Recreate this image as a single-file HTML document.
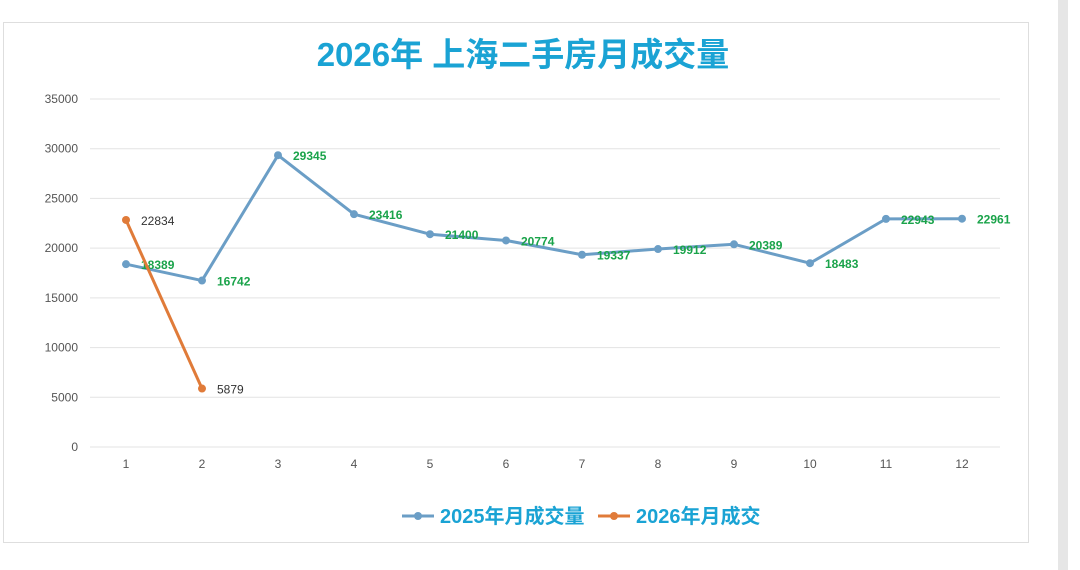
<!DOCTYPE html>
<html><head><meta charset="utf-8"><style>
body{margin:0;width:1080px;height:570px;background:#fff;overflow:hidden;font-family:"Liberation Sans","Noto Sans CJK SC",sans-serif;}
#frame{position:absolute;left:3px;top:22px;width:1024px;height:519px;border:1px solid #dedede;background:#fff;}
#strip{position:absolute;left:1058px;top:0;width:10px;height:570px;background:#e6e6e6;}
</style></head><body>
<div id="strip"></div>
<div id="frame"></div>
<svg id="chart" width="1080" height="570" style="position:absolute;left:0;top:0">
<text x="523" y="66" text-anchor="middle" font-size="33" font-weight="bold" fill="#1aa3d4">2026年 上海二手房月成交量</text>
</svg>
<script>
const categories=[1,2,3,4,5,6,7,8,9,10,11,12];
const series2025=[18389,16742,29345,23416,21400,20774,19337,19912,20389,18483,22943,22961];
const series2026=[22834,5879];
const yTicks=[0,5000,10000,15000,20000,25000,30000,35000];
const svg=document.getElementById('chart');
const NS='http://www.w3.org/2000/svg';
const x0=126,dx=76,yBase=447,yTop=99,yMax=35000;
const xs=i=>x0+i*dx;
const ys=v=>yBase-(v/yMax)*(yBase-yTop);
function mk(t,a,p){const e=document.createElementNS(NS,t);for(const k in a)e.setAttribute(k,a[k]);(p||svg).appendChild(e);return e;}
yTicks.forEach(v=>{
 const l=mk('line',{x1:90,x2:1000,y1:ys(v),y2:ys(v),stroke:'#e3e3e3','stroke-width':1});
 
 
 const t=mk('text',{x:78,y:ys(v)+4,'text-anchor':'end','font-size':12,fill:'#555'});t.textContent=v;
 
 
});
categories.forEach((c,i)=>{
 const t=mk('text',{x:xs(i),y:468,'text-anchor':'middle','font-size':12,fill:'#555'});t.textContent=c;
 
 
});
function series(vals,color,name,labelColor,bold){
 const p=mk('polyline',{points:vals.map((v,i)=>xs(i)+','+ys(v)).join(' '),fill:'none',stroke:color,'stroke-width':3,'stroke-linejoin':'round'});
 
 
 vals.forEach((v,i)=>{
  const c=mk('circle',{cx:xs(i),cy:ys(v),r:4,fill:color});
  
  
  const t=mk('text',{x:xs(i)+15,y:ys(v)+5,'font-size':12,'font-weight':bold?'bold':'normal',fill:labelColor});t.textContent=v;
  
  
 });
}
series(series2025,'#6b9ec6','series-2025','#1aa34a',true);
series(series2026,'#e07b39','series-2026','#333',false);
function legend(x,color,label,name){
 const g=mk('g',{});
 
 
 mk('line',{x1:x,x2:x+32,y1:516,y2:516,stroke:color,'stroke-width':3},g);
 mk('circle',{cx:x+16,cy:516,r:4,fill:color},g);
 const t=mk('text',{x:x+38,y:523,'font-size':20,'font-weight':'bold',fill:'#1aa3d4'},g);t.textContent=label;
}
legend(402,'#6b9ec6','2025年月成交量','legend-entry-2025');
legend(598,'#e07b39','2026年月成交','legend-entry-2026');
</script>
</body></html>
